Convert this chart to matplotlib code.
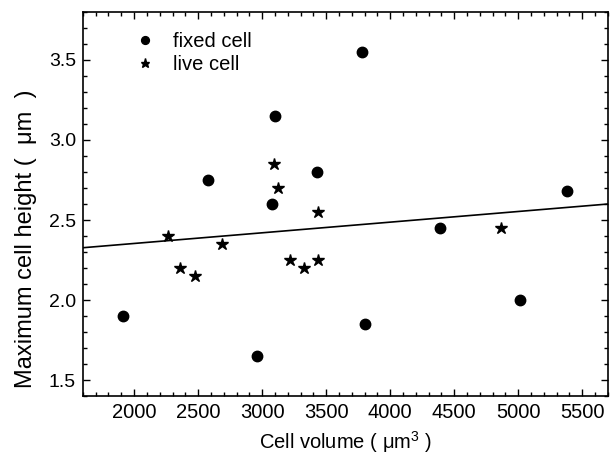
import numpy as np
import matplotlib
matplotlib.use("Agg")
import matplotlib.pyplot as plt
from matplotlib.ticker import MultipleLocator

plt.rcParams['font.family'] = ['Liberation Sans', 'DejaVu Sans']
plt.rcParams['mathtext.fontset'] = 'custom'
plt.rcParams['mathtext.rm'] = 'Liberation Sans'

# fixed cells (circles)
fixed_vol = [1910, 2580, 3100, 3080, 3430, 3780, 5380, 4390, 3800, 5015, 2960]
fixed_h = [1.90, 2.75, 3.15, 2.60, 2.80, 3.55, 2.68, 2.45, 1.85, 2.00, 1.65]

# live cells (stars)
live_vol = [2265, 2355, 2475, 2685, 3095, 3120, 3440, 3215, 3325, 3440, 4865]
live_h = [2.40, 2.20, 2.15, 2.35, 2.85, 2.70, 2.55, 2.25, 2.20, 2.25, 2.45]

# linear fit
fit_slope = 6.66e-5
fit_intercept = 2.2204

fig = plt.figure(figsize=(6.14, 4.59), dpi=100)
ax = fig.add_axes([0.135, 0.137, 0.855, 0.837])

ax.plot(fixed_vol, fixed_h, 'o', color='black', markersize=7.5, linestyle='none', label='fixed cell')
ax.plot(live_vol, live_h, '*', color='black', markersize=9, linestyle='none', label='live cell')

xlim = (1600, 5700)
xx = np.array(xlim)
ax.plot(xx, fit_intercept + fit_slope * xx, '-', color='black', linewidth=1.2)

ax.set_xlim(*xlim)
ax.set_ylim(1.4, 3.8)
ax.xaxis.set_major_locator(MultipleLocator(500))
ax.xaxis.set_minor_locator(MultipleLocator(100))
ax.yaxis.set_major_locator(MultipleLocator(0.5))
ax.yaxis.set_minor_locator(MultipleLocator(0.1))
ax.set_xticks([2000, 2500, 3000, 3500, 4000, 4500, 5000, 5500])
ax.yaxis.set_major_formatter(matplotlib.ticker.FormatStrFormatter('%.1f'))

ax.tick_params(which='both', direction='in', top=True, right=True, labelsize=14.5, width=1)
ax.tick_params(axis='y', labelsize=14)
ax.tick_params(which='major', length=5, pad=5)
ax.tick_params(which='minor', length=3)
for s in ax.spines.values():
    s.set_linewidth(1.2)

ax.set_xlabel(r'Cell volume ( μm$^{3}$ )', fontsize=14.5, labelpad=5)
ax.set_ylabel('Maximum cell height (  μm  )', fontsize=17)
ax.yaxis.set_label_coords(-0.088, 0.41)

leg = ax.legend(loc='upper left', bbox_to_anchor=(0.06, 0.995), frameon=False,
                fontsize=14.5, markerscale=0.75, handletextpad=0.8,
                labelspacing=0.2, handlelength=1.2)

fig.savefig('out.png', dpi=100)
